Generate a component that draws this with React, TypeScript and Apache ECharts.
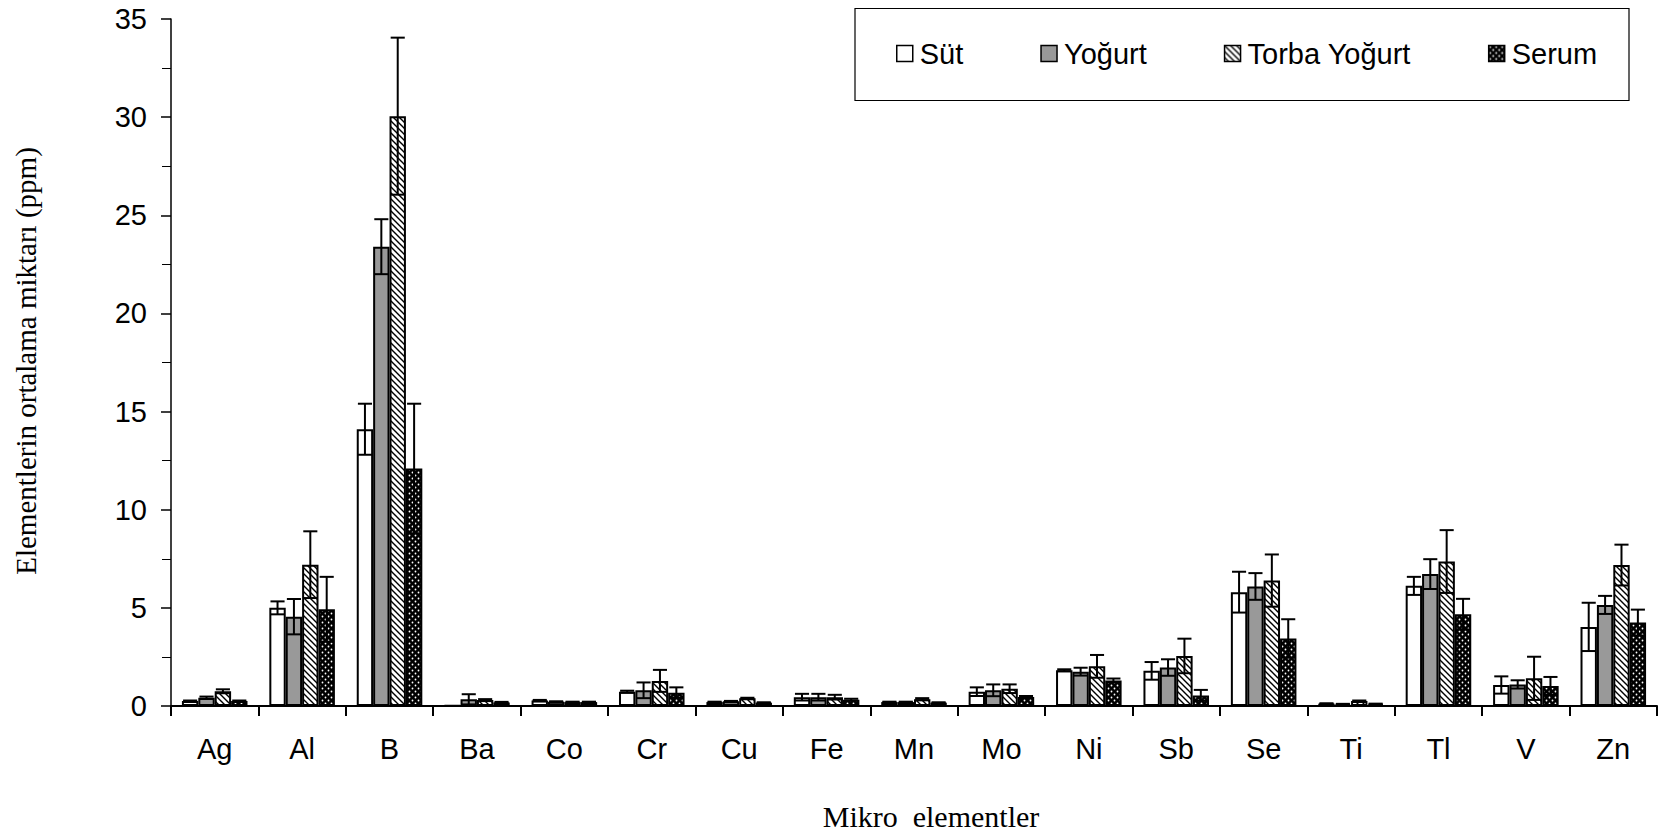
import React, { useEffect, useRef } from "react";
import * as echarts from "echarts";

const categories = ["Ag", "Al", "B", "Ba", "Co", "Cr", "Cu", "Fe", "Mn", "Mo", "Ni", "Sb", "Se", "Ti", "Tl", "V", "Zn"];

const seriesNames = ["Süt", "Yoğurt", "Torba Yoğurt", "Serum"];

const sut = [0.25, 5.0, 14.1, 0.03, 0.28, 0.73, 0.2, 0.45, 0.2, 0.73, 1.82, 1.79, 5.8, 0.12, 6.12, 1.07, 4.03];
const sutErr = [0.03, 0.33, 1.3, 0, 0.03, 0.05, 0.02, 0.17, 0.02, 0.22, 0.05, 0.45, 1.04, 0.02, 0.46, 0.44, 1.23];

const yogurt = [0.42, 4.55, 23.4, 0.34, 0.22, 0.8, 0.24, 0.45, 0.2, 0.8, 1.75, 1.96, 6.09, 0.09, 6.72, 1.1, 5.15];
const yogurtErr = [0.06, 0.9, 1.4, 0.26, 0.02, 0.4, 0.02, 0.17, 0.02, 0.3, 0.2, 0.42, 0.68, 0.02, 0.76, 0.21, 0.46];

const torba = [0.75, 7.2, 30.05, 0.3, 0.2, 1.28, 0.39, 0.45, 0.35, 0.88, 2.02, 2.55, 6.39, 0.25, 7.36, 1.41, 7.18];
const torbaErr = [0.1, 1.7, 4.0, 0.05, 0.02, 0.56, 0.03, 0.12, 0.05, 0.22, 0.58, 0.88, 1.33, 0.03, 1.6, 1.1, 1.04];

const serum = [0.25, 4.93, 12.1, 0.18, 0.2, 0.68, 0.17, 0.32, 0.17, 0.46, 1.3, 0.54, 3.44, 0.1, 4.68, 1.02, 4.25];
const serumErr = [0.03, 1.65, 3.3, 0.03, 0.02, 0.27, 0.02, 0.05, 0.02, 0.05, 0.1, 0.28, 0.98, 0.02, 0.78, 0.46, 0.66];

const yTicks = { min: 0, max: 35, interval: 5 };

function hatchPattern() {
  const c = document.createElement("canvas");
  c.width = 6;
  c.height = 6;
  const ctx = c.getContext("2d")!;
  ctx.fillStyle = "#ffffff";
  ctx.fillRect(0, 0, 6, 6);
  ctx.strokeStyle = "#000000";
  ctx.lineWidth = 1.4;
  ctx.beginPath();
  ctx.moveTo(-1, -1);
  ctx.lineTo(7, 7);
  ctx.moveTo(5, -1);
  ctx.lineTo(7, 1);
  ctx.moveTo(-1, 5);
  ctx.lineTo(1, 7);
  ctx.stroke();
  return { image: c, repeat: "repeat", imageWidth: 6, imageHeight: 6 };
}

function dotPattern() {
  const c = document.createElement("canvas");
  c.width = 6;
  c.height = 6;
  const ctx = c.getContext("2d")!;
  ctx.fillStyle = "#000000";
  ctx.fillRect(0, 0, 6, 6);
  ctx.fillStyle = "#ffffff";
  ctx.beginPath();
  ctx.arc(1.5, 1.5, 0.9, 0, Math.PI * 2);
  ctx.arc(4.5, 4.5, 0.9, 0, Math.PI * 2);
  ctx.fill();
  return { image: c, repeat: "repeat", imageWidth: 6, imageHeight: 6 };
}

export default function App() {
  const ref = useRef<HTMLDivElement>(null);

  useEffect(() => {
    if (!ref.current) return;
    const chart = echarts.init(ref.current, null, { renderer: "svg" });

    const values = [sut, yogurt, torba, serum];
    const errs = [sutErr, yogurtErr, torbaErr, serumErr];
    const fills: any[] = ["#ffffff", "#999999", hatchPattern(), dotPattern()];

    const barSeries = seriesNames.map((name, i) => ({
      name,
      type: "bar",
      data: values[i],
      barGap: "0%",
      barCategoryGap: "25%",
      itemStyle: { color: fills[i], borderColor: "#000", borderWidth: 2 },
      z: 2,
    }));

    const errSeries = seriesNames.map((name, s) => ({
      name: name + " err",
      type: "custom",
      z: 5,
      data: values[s].map((v, i) => [i, v, errs[s][i]]),
      renderItem: (params: any, api: any) => {
        const ci = api.value(0);
        const v = api.value(1);
        const e = api.value(2);
        if (!e) return null;
        const bandW = api.size([1, 0])[0];
        const barW = (bandW * 0.75) / 4;
        const c = api.coord([ci, v]);
        const x = c[0] + (s - 1.5) * barW;
        const top = api.coord([ci, v + e])[1];
        const bot = api.coord([ci, Math.max(0, v - e)])[1];
        const half = barW * 0.43;
        const st = { stroke: "#000", lineWidth: 2 };
        return {
          type: "group",
          children: [
            { type: "line", shape: { x1: x, y1: top, x2: x, y2: bot }, style: st },
            { type: "line", shape: { x1: x - half, y1: top, x2: x + half, y2: top }, style: st },
            { type: "line", shape: { x1: x - half, y1: bot, x2: x + half, y2: bot }, style: st },
          ],
        };
      },
    }));

    chart.setOption({
      animation: false,
      textStyle: { fontFamily: "'Liberation Sans', Arial, sans-serif" },
      grid: { left: 171, right: 2, top: 19, bottom: 131 },
      legend: {
        data: seriesNames,
        left: 896,
        top: 39,
        itemWidth: 16,
        itemHeight: 16,
        itemGap: 77,
        padding: 0,
        icon: "rect",
        itemStyle: { borderColor: "#000", borderWidth: 1.5 },
        textStyle: { fontSize: 29, color: "#000", padding: [0, 0, 0, 2] },
      },
      xAxis: {
        type: "category",
        data: categories,
        axisLine: { lineStyle: { color: "#000", width: 2 } },
        axisTick: { show: true, length: 10, lineStyle: { color: "#000", width: 2 } },
        axisLabel: { fontSize: 29, color: "#000", margin: 28, interval: 0 },
      },
      yAxis: {
        type: "value",
        min: yTicks.min,
        max: yTicks.max,
        interval: yTicks.interval,
        axisLine: { show: true, lineStyle: { color: "#000", width: 1.5 } },
        axisTick: { show: true, length: 10, lineStyle: { color: "#000", width: 1.5 } },
        minorTick: { show: true, splitNumber: 2, length: 9, lineStyle: { color: "#000", width: 1 } },
        splitLine: { show: false },
        axisLabel: { fontSize: 29, color: "#000", margin: 24 },
      },
      graphic: [
        {
          type: "rect",
          shape: { x: 855, y: 8.5, width: 774, height: 92 },
          style: { fill: "none", stroke: "#000", lineWidth: 1.2 },
        },
        {
          type: "text",
          x: 26,
          y: 361,
          rotation: Math.PI / 2,
          style: {
            text: "Elementlerin ortalama miktarı (ppm)",
            font: "29px 'Liberation Serif', 'Times New Roman', serif",
            fill: "#000",
            textAlign: "center",
            textVerticalAlign: "middle",
          },
        },
        {
          type: "text",
          x: 931,
          y: 816,
          style: {
            text: "Mikro  elementler",
            font: "30px 'Liberation Serif', 'Times New Roman', serif",
            fill: "#000",
            textAlign: "center",
            textVerticalAlign: "middle",
          },
        },
      ],
      series: [...barSeries, ...errSeries],
    });

    return () => chart.dispose();
  }, []);

  return (
    <div
      ref={ref}
      style={{ position: "fixed", left: 0, top: 0, width: 1659, height: 837, background: "#fff" }}
    />
  );
}
